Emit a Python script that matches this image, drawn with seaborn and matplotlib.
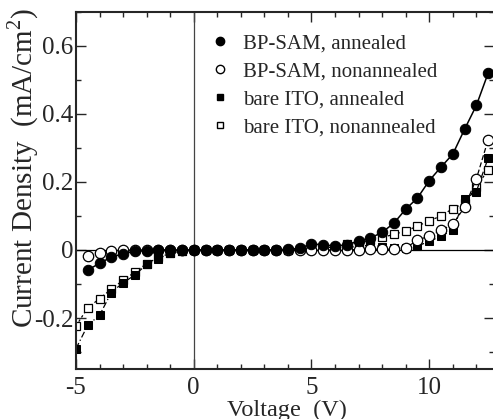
import numpy as np
import pandas as pd
import seaborn as sns
import matplotlib
matplotlib.use('Agg')
import matplotlib.pyplot as plt
from matplotlib.lines import Line2D
from matplotlib.ticker import MultipleLocator, FuncFormatter

sns.set_style('ticks')
plt.rcParams['font.family'] = ['Liberation Serif', 'DejaVu Serif']
plt.rcParams['mathtext.fontset'] = 'custom'
plt.rcParams['mathtext.rm'] = 'Liberation Serif'

# voltage steps of 0.5 V
volt_full = list(np.arange(-5.0, 12.51, 0.5))   # -5 .. 12.5 (36 points)
volt_part = list(np.arange(-4.5, 12.51, 0.5))   # -4.5 .. 12.5 (35 points)

# BP-SAM, annealed (filled circles), from -4.5 V
sam_ann = [-0.059, -0.039, -0.021, -0.011, -0.004, -0.002, 0.0, 0.0, 0.0, 0.0,
           0.0, 0.0, 0.0, 0.0, 0.0, 0.0, 0.001, 0.002, 0.005, 0.018,
           0.015, 0.012, 0.015, 0.027, 0.035, 0.052, 0.079, 0.120, 0.153, 0.204,
           0.244, 0.282, 0.355, 0.425, 0.520]

# BP-SAM, nonannealed (open circles), from -4.5 V
sam_non = [-0.017, -0.010, -0.003, 0.0, 0.0, 0.0, 0.0, 0.0, 0.0, 0.0,
           0.0, 0.0, 0.0, 0.0, 0.0, 0.0, 0.0, 0.0, 0.0, 0.0,
           0.0, 0.0, 0.001, 0.001, 0.002, 0.002, 0.002, 0.006, 0.029, 0.041,
           0.058, 0.076, 0.126, 0.209, 0.324]

# bare ITO, annealed (filled squares), from -5 V
ito_ann = [-0.290, -0.221, -0.192, -0.125, -0.096, -0.074, -0.042, -0.025, -0.010, -0.004,
           0.0, 0.0, 0.0, 0.0, 0.0, 0.0, 0.0, 0.0, 0.0, 0.002,
           0.002, 0.003, 0.005, 0.008, 0.010, 0.015, 0.010, 0.006, 0.005, 0.012,
           0.025, 0.041, 0.058, 0.150, 0.172, 0.270]

# bare ITO, nonannealed (open squares), from -5 V
ito_non = [-0.223, -0.170, -0.143, -0.115, -0.089, -0.065, -0.040, -0.022, -0.010, -0.003,
           0.0, 0.0, 0.0, 0.0, 0.0, 0.0, 0.0, 0.0, 0.0, 0.002,
           0.003, 0.005, 0.010, 0.017, 0.020, 0.028, 0.037, 0.046, 0.056, 0.070,
           0.086, 0.100, 0.122, 0.138, 0.185, 0.236]

labels = ['BP-SAM, annealed', 'BP-SAM, nonannealed',
          'bare ITO, annealed', 'bare ITO, nonannealed']

fig = plt.figure(figsize=(4.93, 4.19), dpi=100)
ax = fig.add_axes([76 / 493, 50 / 419, 418 / 493, 357 / 419])

# draw order: open squares, filled squares, open circles, filled circles
sns.lineplot(x=volt_full, y=ito_non, ax=ax, color='k', lw=0.9, ls=(0, (2, 2)),
             marker='s', ms=6, mfc='white', mec='k', mew=0.9, legend=False)
sns.lineplot(x=volt_full, y=ito_ann, ax=ax, color='k', lw=0.9, ls=(0, (5, 2, 1, 2)),
             marker='s', ms=6, mfc='k', mec='k', legend=False)
sns.lineplot(x=volt_part, y=sam_non, ax=ax, color='k', lw=0.9, ls=(0, (4, 2)),
             marker='o', ms=7.5, mfc='white', mec='k', mew=0.9, legend=False)
sns.lineplot(x=volt_part, y=sam_ann, ax=ax, color='k', lw=1.1, ls='-',
             marker='o', ms=7.5, mfc='k', mec='k', legend=False)

ax.axhline(0, color='k', lw=0.9, zorder=1)
ax.axvline(0, color='#444444', lw=0.9, zorder=1)

ax.set_xlim(-5, 12.75)
ax.set_ylim(-0.35, 0.7)
ax.xaxis.set_major_locator(MultipleLocator(5))
ax.xaxis.set_minor_locator(MultipleLocator(1))
ax.yaxis.set_major_locator(MultipleLocator(0.2))
ax.yaxis.set_minor_locator(MultipleLocator(0.1))
ax.yaxis.set_major_formatter(FuncFormatter(lambda v, p: '0' if abs(v) < 1e-9 else f'{v:.1f}'))
ax.xaxis.set_major_formatter(FuncFormatter(lambda v, p: f'{v:.0f}'))

ax.tick_params(which='both', direction='in', top=True, right=True, width=1.0, labelsize=18)
ax.tick_params(which='major', length=7)
ax.tick_params(which='minor', length=3.5)
ax.tick_params(axis='y', pad=2)
ax.tick_params(axis='x', pad=6)
for s in ax.spines.values():
    s.set_linewidth(1.5)

ax.set_xlabel('Voltage  (V)', fontsize=17.5)
ax.set_ylabel('Current Density  (mA/cm$^2$)', fontsize=21)
ax.xaxis.set_label_coords(0.505, -0.085)
ax.yaxis.set_label_coords(-0.084, 0.563)

handles = [
    Line2D([], [], ls='none', marker='o', ms=6, mfc='k', mec='k'),
    Line2D([], [], ls='none', marker='o', ms=6, mfc='white', mec='k'),
    Line2D([], [], ls='none', marker='s', ms=5, mfc='k', mec='k'),
    Line2D([], [], ls='none', marker='s', ms=5, mfc='white', mec='k'),
]
ax.legend(handles, labels, loc='upper left', bbox_to_anchor=(0.32, 0.938),
          frameon=False, fontsize=15, handlelength=1.0, handletextpad=0.6,
          labelspacing=0.4, borderpad=0, borderaxespad=0)

fig.savefig('out.png', dpi=100)
